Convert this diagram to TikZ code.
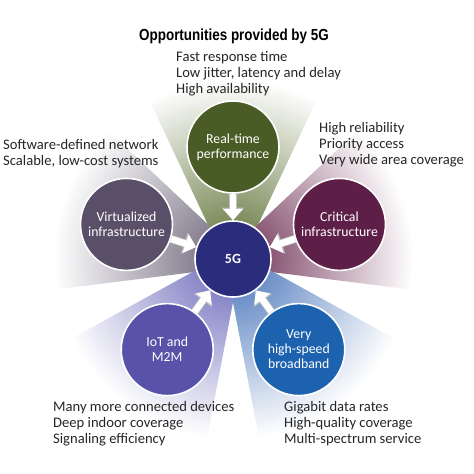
\documentclass[tikz,border=0pt]{standalone}
\usepackage{fontspec}
\setmainfont{Carlito}
\newfontfamily\titlefont[FakeStretch=0.84]{Liberation Sans}
\usetikzlibrary{arrows.meta}
\definecolor{txtc}{HTML}{262626}
\definecolor{rtc}{HTML}{4A5C25}
\definecolor{vic}{HTML}{5A4F69}
\definecolor{crc}{HTML}{5D1E47}
\definecolor{gfc}{HTML}{2B2C7C}
\definecolor{ioc}{HTML}{5852A8}
\definecolor{bbc}{HTML}{1D62AE}
\definecolor{fanrt}{HTML}{5B6F32}
\definecolor{fanvi}{HTML}{696176}
\definecolor{fancr}{HTML}{6C2C52}
\definecolor{fanio}{HTML}{6967B9}
\definecolor{fanbb}{HTML}{4673B9}
\begin{document}
\begin{tikzpicture}[x=1pt,y=-1pt,
  bubble/.style={circle, draw=white, line width=1.6pt, text=white, align=center,
    font=\fontsize{13.8}{15}\selectfont, inner sep=0pt, minimum size=92pt},
  txt/.style={anchor=base west, inner sep=0pt, text=txtc, font=\fontsize{14.6}{16}\selectfont},
  flow/.style={draw=white, line width=6.5pt, -{Triangle[length=11pt,width=19pt]},
    preaction={draw=black!25, line width=8pt, -{Triangle[length=12.5pt,width=21.5pt]}}}
]
\useasboundingbox[fill=white] (0,0) rectangle (474,474);
% fans
\foreach \a/\c in {270/fanrt, 198/fanvi, 342/fancr, 126/fanio, 54/fanbb}{
  \begin{scope}[shift={(233,259)}]
    \clip (\a-90:9) -- (\a-27.4:208) -- (\a+27.4:208) -- (\a+90:9) -- cycle;
    \shade[inner color=\c, outer color=white] (0,0) circle (180);
  \end{scope}
}
% circles
\node[bubble, fill=gfc, minimum size=76pt, font=\bfseries\fontsize{14}{16}\selectfont] (g5) at (233,259) {5G};
\node[bubble, fill=rtc] (rt) at (233,147) {Real-time\\performance};
\node[bubble, fill=vic] (vi) at (126.5,224.4) {Virtualized\\infrastructure};
\node[bubble, fill=crc] (cr) at (339.5,224.4) {Critical\\infrastructure};
\node[bubble, fill=ioc] (io) at (167.2,349.6) {IoT and\\M2M};
\node[bubble, fill=bbc] (bb) at (298.8,349.6) {Very\\high-speed\\broadband};
% arrows
\foreach \s in {rt,vi,cr,io,bb}{
  \draw[flow] (\s) -- (g5);
}
% title
\node[inner sep=0pt, anchor=base, text=black, font=\titlefont\bfseries\fontsize{16}{18}\selectfont] (title) at (234,40) {Opportunities provided by 5G};
% text blocks
\foreach \t [count=\i] in {Fast response time, {Low jitter, latency and delay}, High availability}
  \node[txt] (ta\i) at (176,61+16*\i-16) {\t};
\foreach \t [count=\i] in {Software-defined network, {Scalable, low-cost systems}}
  \node[txt] (tb\i) at (3,149+16*\i-16) {\t};
\foreach \t [count=\i] in {High reliability, Priority access, Very wide area coverage}
  \node[txt] (tc\i) at (319,132+16*\i-16) {\t};
\foreach \t [count=\i] in {Many more connected devices, Deep indoor coverage, Signaling efficiency}
  \node[txt] (td\i) at (53,411+16*\i-16) {\t};
\foreach \t [count=\i] in {Gigabit data rates, High-quality coverage, Multi-spectrum service}
  \node[txt] (te\i) at (284,411+16*\i-16) {\t};
\end{tikzpicture}
\end{document}
